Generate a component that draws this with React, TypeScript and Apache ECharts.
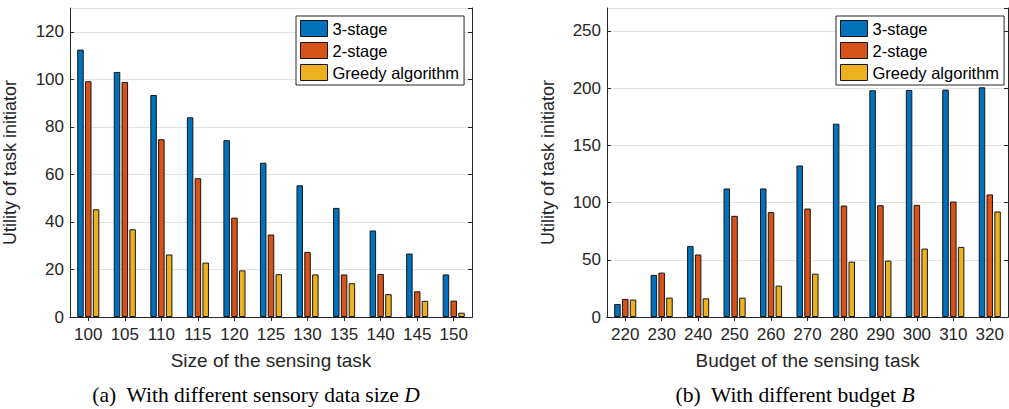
import React, { useEffect, useRef } from "react";
import * as echarts from "echarts";

const seriesNames = ["3-stage", "2-stage", "Greedy algorithm"];
const colors = ["#0072BD", "#D95319", "#EDB120"];

const sizeCategories = ["100", "105", "110", "115", "120", "125", "130", "135", "140", "145", "150"];
const sizeThreeStage = [112.5, 103.1, 93.4, 84.0, 74.4, 64.9, 55.4, 45.9, 36.4, 26.7, 17.9];
const sizeTwoStage = [99.2, 98.9, 74.8, 58.4, 41.8, 34.7, 27.4, 17.9, 18.1, 10.8, 6.9];
const sizeGreedy = [45.3, 36.9, 26.3, 22.9, 19.6, 18.0, 17.9, 14.2, 9.6, 6.8, 1.8];

const budgetCategories = ["220", "230", "240", "250", "260", "270", "280", "290", "300", "310", "320"];
const budgetThreeStage = [11.4, 36.8, 62.1, 112.3, 112.3, 132.4, 168.9, 198.1, 198.4, 198.7, 200.7];
const budgetTwoStage = [15.8, 38.8, 54.6, 88.4, 91.6, 94.8, 97.4, 97.7, 98.0, 100.9, 107.1];
const budgetGreedy = [15.2, 16.9, 16.3, 16.9, 27.4, 37.9, 48.4, 49.3, 59.8, 61.3, 92.2];

const FONT = "Liberation Sans";
const TXT = "#262626";

export default function App() {
  const ref = useRef<HTMLDivElement>(null);
  useEffect(() => {
    if (!ref.current) return;
    const chart = echarts.init(ref.current, undefined, { renderer: "svg" });

    const bottomX = (grid: number, data: string[], name: string) => ({
      type: "category",
      gridIndex: grid,
      data,
      position: "bottom",
      name,
      nameLocation: "middle",
      nameGap: 34,
      nameTextStyle: { fontFamily: FONT, fontSize: 19, color: TXT },
      axisLine: { show: true, lineStyle: { color: TXT, width: 1 } },
      axisTick: { show: true, inside: true, alignWithLabel: true, interval: 0, length: 4, lineStyle: { color: TXT } },
      axisLabel: { fontFamily: FONT, fontSize: 17, color: TXT, margin: 9, interval: 0 },
    });
    const topX = (grid: number, data: string[]) => ({
      type: "category",
      gridIndex: grid,
      data,
      position: "top",
      axisLine: { show: true, lineStyle: { color: TXT, width: 1 } },
      axisTick: { show: true, inside: true, alignWithLabel: true, interval: 0, length: 4, lineStyle: { color: TXT } },
      axisLabel: { show: false, interval: 0 },
    });
    const leftY = (grid: number, max: number, interval: number, gap: number) => ({
      type: "value",
      gridIndex: grid,
      min: 0,
      max,
      interval,
      position: "left",
      name: "Utility of task initiator",
      nameLocation: "middle",
      nameGap: gap,
      nameTextStyle: { fontFamily: FONT, fontSize: 18, color: TXT },
      axisLine: { show: true, lineStyle: { color: TXT, width: 1 } },
      axisTick: { show: true, inside: true, length: 4, lineStyle: { color: TXT } },
      axisLabel: { fontFamily: FONT, fontSize: 17, color: TXT, margin: 6, showMaxLabel: false },
      splitLine: { show: true, lineStyle: { color: "#e3e3e3", width: 1 } },
    });
    const rightY = (grid: number, max: number, interval: number) => ({
      type: "value",
      gridIndex: grid,
      min: 0,
      max,
      interval,
      position: "right",
      axisLine: { show: true, lineStyle: { color: TXT, width: 1 } },
      axisTick: { show: true, inside: true, length: 4, lineStyle: { color: TXT } },
      axisLabel: { show: false },
      splitLine: { show: false },
    });

    const barSeries = (name: string, data: number[], color: string, xi: number, yi: number) => ({
      type: "bar",
      name,
      data,
      xAxisIndex: xi,
      yAxisIndex: yi,
      barWidth: 6.5,
      barGap: "20%",
      itemStyle: { color, borderColor: "#151515", borderWidth: 1 },
    });

    const legend = (left: number) => ({
      orient: "vertical",
      left,
      top: 16,
      data: seriesNames,
      backgroundColor: "#ffffff",
      borderColor: TXT,
      borderWidth: 1,
      borderRadius: 0,
      padding: [4, 5, 4, 4],
      itemWidth: 27,
      itemHeight: 16,
      itemGap: 5,
      icon: "rect",
      itemStyle: { borderColor: "#151515", borderWidth: 1 },
      textStyle: { fontFamily: FONT, fontSize: 16.5, lineHeight: 16, color: "#000" },
      selectedMode: false,
    });

    chart.setOption({
      animation: false,
      color: colors,
      grid: [
        { left: 68, top: 8, width: 404, height: 309, containLabel: false },
        { left: 607, top: 8, width: 401, height: 309, containLabel: false },
      ],
      xAxis: [
        bottomX(0, sizeCategories, "Size of the sensing task"),
        topX(0, sizeCategories),
        bottomX(1, budgetCategories, "Budget of the sensing task"),
        topX(1, budgetCategories),
      ],
      yAxis: [leftY(0, 130, 20, 51), rightY(0, 130, 20), leftY(1, 270, 50, 50), rightY(1, 270, 50)],
      legend: [legend(296), legend(836)],
      series: [
        barSeries(seriesNames[0], sizeThreeStage, colors[0], 0, 0),
        barSeries(seriesNames[1], sizeTwoStage, colors[1], 0, 0),
        barSeries(seriesNames[2], sizeGreedy, colors[2], 0, 0),
        barSeries(seriesNames[0], budgetThreeStage, colors[0], 2, 2),
        barSeries(seriesNames[1], budgetTwoStage, colors[1], 2, 2),
        barSeries(seriesNames[2], budgetGreedy, colors[2], 2, 2),
      ],
      graphic: [
        {
          type: "text",
          x: 256,
          y: 395,
          style: {
            text: "(a)  With different sensory data size {i|D}",
            fontFamily: "Liberation Serif",
            fontSize: 21.5,
            fill: "#000",
            align: "center",
            verticalAlign: "middle",
            rich: { i: { fontStyle: "italic", fontFamily: "Liberation Serif", fontSize: 21.5 } },
          },
        },
        {
          type: "text",
          x: 795,
          y: 395,
          style: {
            text: "(b)  With different budget {i|B}",
            fontFamily: "Liberation Serif",
            fontSize: 21.5,
            fill: "#000",
            align: "center",
            verticalAlign: "middle",
            rich: { i: { fontStyle: "italic", fontFamily: "Liberation Serif", fontSize: 21.5 } },
          },
        },
      ],
    });
    return () => chart.dispose();
  }, []);
  return (
    <div
      ref={ref}
      style={{ position: "absolute", left: 0, top: 0, width: 1009, height: 409, background: "#fff" }}
    />
  );
}
